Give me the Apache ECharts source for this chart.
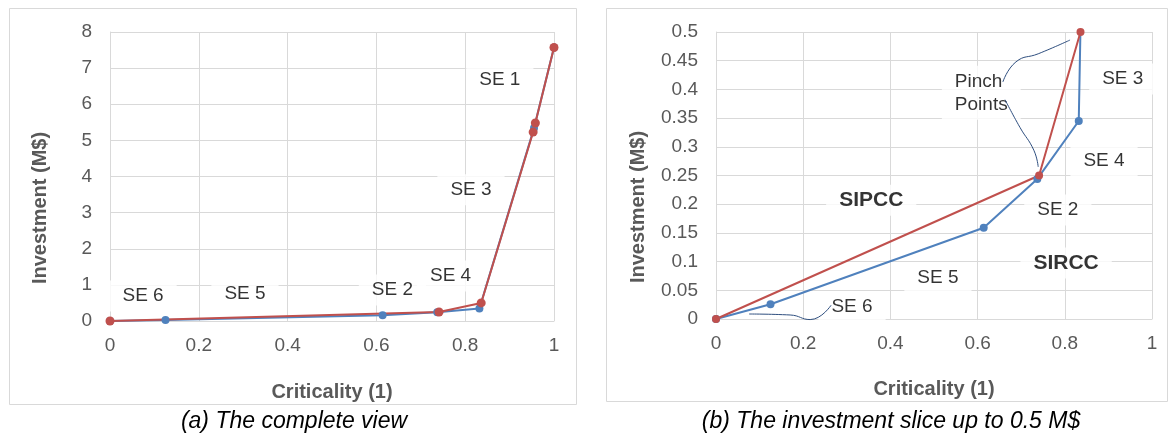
<!DOCTYPE html>
<html>
<head>
<meta charset="utf-8">
<script src="https://cdn.jsdelivr.net/npm/echarts@6/dist/echarts.min.js"></script>
<style>
html, body { margin: 0; padding: 0; background: #fff; }
#chart { width: 1170px; height: 436px; }
</style>
</head>
<body>
<div id="chart"></div>
<script>
// criticality (x) and investment in M$ (y)
var sirccX = [0, 0.125, 0.614, 0.737, 0.832, 0.955, 1];
var sirccY = [0, 0.0256, 0.159, 0.244, 0.345, 5.34, 7.57];
var sipccX = [0, 0.741, 0.836, 0.953, 0.958, 1];
var sipccY = [0, 0.25, 0.5, 5.23, 5.48, 7.57];

// text boxes on the plots: [x, y, text]
var notesA = [[0.878, 6.67, 'SE 1'], [0.813, 3.63, 'SE 3'], [0.767, 1.245, 'SE 4'],
              [0.636, 0.858, 'SE 2'], [0.304, 0.747, 'SE 5'], [0.0745, 0.692, 'SE 6']];
var notesB = [[0.933, 0.418, 'SE 3'], [0.89, 0.275, 'SE 4'], [0.784, 0.19, 'SE 2'],
              [0.509, 0.0714, 'SE 5'], [0.312, 0.021, 'SE 6']];
var boldB = [[0.356, 0.207, 'SIPCC'], [0.803, 0.0976, 'SIRCC']];
var pinchB = [[0.518, 0.394, 'Pinch\nPoints']];

// callout curves in panel b
var callTop = [[0.658, 0.413], [0.688, 0.448], [0.739, 0.462], [0.812, 0.486]];
var callLow = [[0.663, 0.382], [0.697, 0.334], [0.729, 0.294], [0.739, 0.265]];
var callSE6 = [[0.076, 0.0087], [0.17, 0.007], [0.216, -0.001], [0.264, 0.024]];

function zip(xs, ys) {
  var out = [];
  for (var i = 0; i < xs.length; i++) out.push([xs[i], ys[i]]);
  return out;
}

var FONT = '"Liberation Sans", Arial, sans-serif';
var GRAY = '#d9d9d9';
var BLUE = '#4f81bd';
var RED = '#c0504d';
var NAVY = '#2f4f7f';

function xAx(idx, gap) {
  return {
    type: 'value', gridIndex: idx, min: 0, max: 1, interval: 0.2,
    name: 'Criticality (1)', nameLocation: 'middle', nameGap: gap,
    nameTextStyle: { fontFamily: FONT, fontSize: 20, fontWeight: 'bold', color: '#595959' },
    axisLine: { show: true, lineStyle: { color: GRAY, width: 1 } },
    axisTick: { show: false },
    splitLine: { show: true, lineStyle: { color: GRAY, width: 1 } },
    axisLabel: { fontFamily: FONT, fontSize: 19, color: '#595959', margin: 15,
      formatter: function (v) { return String(+v.toFixed(1)); } }
  };
}

function yAx(idx, max, step) {
  return {
    type: 'value', gridIndex: idx, min: 0, max: max, interval: step,
    axisLine: { show: true, lineStyle: { color: GRAY, width: 1 } },
    axisTick: { show: false },
    splitLine: { show: true, lineStyle: { color: GRAY, width: 1 } },
    axisLabel: { fontFamily: FONT, fontSize: 19, color: '#595959', margin: 18,
      formatter: function (v) { return String(+v.toFixed(2)); } }
  };
}

function lineSeries(idx, data, color, size) {
  return {
    type: 'line', xAxisIndex: idx, yAxisIndex: idx, data: data, z: 4,
    symbol: 'circle', symbolSize: size, showSymbol: true,
    lineStyle: { color: color, width: 2 }, itemStyle: { color: color }
  };
}

function noteSeries(idx, data, fontSize, weight, align) {
  return {
    type: 'scatter', xAxisIndex: idx, yAxisIndex: idx, z: 2,
    data: data.map(function (d) { return { value: [d[0], d[1]], name: d[2] }; }),
    symbolSize: 1, itemStyle: { color: 'rgba(0,0,0,0)' },
    label: {
      show: true, position: 'inside', align: align || 'center', verticalAlign: 'middle',
      formatter: '{b}', fontFamily: FONT, fontSize: fontSize, fontWeight: weight,
      color: '#000', backgroundColor: '#fff', padding: [4, 13], lineHeight: 23
    }
  };
}

function curveSeries(data, clip) {
  return {
    type: 'line', xAxisIndex: 1, yAxisIndex: 1, data: data, z: 5, clip: clip,
    smooth: 0.5, showSymbol: false, symbol: 'none',
    lineStyle: { color: NAVY, width: 1 }
  };
}

var myChart = echarts.init(document.getElementById('chart'));

var option = {
  animation: false,
  backgroundColor: '#fff',
  grid: [
    { left: 110, top: 32, width: 444, height: 289, outerBoundsMode: 'none' },
    { left: 716, top: 32, width: 436, height: 287, outerBoundsMode: 'none' }
  ],
  xAxis: [xAx(0, 61), xAx(1, 60)],
  yAxis: [yAx(0, 8, 1), yAx(1, 0.5, 0.05)],
  graphic: [
    { type: 'rect', shape: { x: 9.5, y: 8.5, width: 567, height: 396 },
      style: { fill: null, stroke: GRAY, lineWidth: 1 }, z: -1, silent: true },
    { type: 'rect', shape: { x: 606.5, y: 8.5, width: 561, height: 393 },
      style: { fill: null, stroke: GRAY, lineWidth: 1 }, z: -1, silent: true },
    { type: 'text', x: 40, y: 208, rotation: Math.PI / 2,
      style: { text: 'Investment (M$)', font: 'bold 20px ' + FONT, fill: '#595959',
        textAlign: 'center', textVerticalAlign: 'middle' } },
    { type: 'text', x: 638, y: 207, rotation: Math.PI / 2,
      style: { text: 'Investment (M$)', font: 'bold 20px ' + FONT, fill: '#595959',
        textAlign: 'center', textVerticalAlign: 'middle' } },
    { type: 'text', x: 294, y: 422,
      style: { text: '(a) The complete view', font: 'italic 23px ' + FONT, fill: '#000',
        textAlign: 'center', textVerticalAlign: 'middle' } },
    { type: 'text', x: 891, y: 422,
      style: { text: '(b) The investment slice up to 0.5 M$', font: 'italic 23px ' + FONT, fill: '#000',
        textAlign: 'center', textVerticalAlign: 'middle' } }
  ],
  series: [
    noteSeries(0, notesA, 19, 'normal'),
    lineSeries(0, zip(sirccX, sirccY), BLUE, 8),
    lineSeries(0, zip(sipccX, sipccY), RED, 9),
    noteSeries(1, notesB, 19, 'normal'),
    noteSeries(1, boldB, 21, 'bold'),
    noteSeries(1, pinchB, 19, 'normal', 'left'),
    lineSeries(1, zip(sirccX, sirccY), BLUE, 8),
    lineSeries(1, zip(sipccX, sipccY), RED, 8),
    curveSeries(callTop, true),
    curveSeries(callLow, true),
    curveSeries(callSE6, false)
  ]
};

myChart.setOption(option);
window.addEventListener('resize', function () { myChart.resize(); });
</script>
</body>
</html>
